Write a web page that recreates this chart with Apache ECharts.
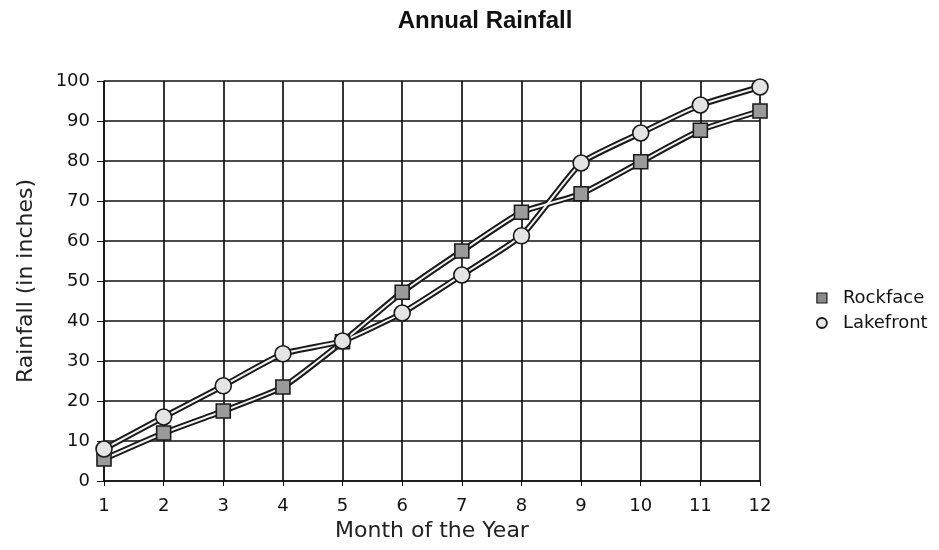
<!DOCTYPE html>
<html>
<head>
<meta charset="utf-8">
<style>html,body{margin:0;padding:0;background:#fff}#c{width:939px;height:550px}</style>
<script src="https://cdn.jsdelivr.net/npm/echarts@6/dist/echarts.min.js"></script>
</head>
<body>
<div id="c"></div>
<script>
const months = [1,2,3,4,5,6,7,8,9,10,11,12];
const rockface = [5.5,12,17.5,23.5,34.8,47.2,57.5,67.2,71.8,79.8,87.7,92.5];
const lakefront = [8,16,23.8,31.8,35,42,51.5,61.3,79.5,87,94,98.5];
const yTicks = [0,10,20,30,40,50,60,70,80,90,100];

const pairs = a => months.map((m,i)=>[m,a[i]]);
const font = 'DejaVu Sans';
const chart = echarts.init(document.getElementById('c'), null, {renderer:'canvas'});
function outline(name, data){
  return {name:name+'-o', type:'line', data:pairs(data), showSymbol:false, symbol:'none',
    smooth:0.15, lineStyle:{color:'#1a1a1a', width:6}, z:2, silent:true, clip:false};
}
function inner(name, data, sym, fill, size){
  return {name:name, type:'line', data:pairs(data), symbol:sym, symbolSize:size, smooth:0.15,
    lineStyle:{color:'#f4f4f4', width:2}, itemStyle:{color:fill, borderColor:'#1a1a1a', borderWidth:1.6, opacity:1},
    z:3, clip:false};
}
chart.setOption({
  animation:false,
  backgroundColor:'#fff',
  title:{text:'Annual Rainfall', left:480, top:4, textAlign:'center',
    textStyle:{fontFamily:'Liberation Sans', fontWeight:'bold', fontSize:24, color:'#111'}},
  legend:{orient:'vertical', left:811, top:284, itemWidth:10, itemHeight:10, itemGap:7,
    textStyle:{fontFamily:font, fontSize:18, color:'#111', padding:[0,0,0,11]},
    data:[
      {name:'Rockface', icon:'rect', itemStyle:{color:'#8a8a8a', borderColor:'#1a1a1a', borderWidth:1.2}},
      {name:'Lakefront', icon:'circle', itemStyle:{color:'#e8e8e8', borderColor:'#1a1a1a', borderWidth:1.8}}
    ]},
  grid:{left:104, right:179, top:81, bottom:69, containLabel:false},
  xAxis:{type:'value', min:1, max:12, interval:1, name:'Month of the Year', nameLocation:'middle', nameGap:35,
    nameTextStyle:{fontFamily:font, fontSize:22, color:'#222'},
    axisLine:{show:true, lineStyle:{color:'#111', width:1.5}},
    axisTick:{show:true, length:5, lineStyle:{color:'#111'}},
    axisLabel:{fontFamily:font, fontSize:18, color:'#111', margin:16},
    splitLine:{show:true, lineStyle:{color:'#111', width:1.7}}},
  yAxis:{type:'value', min:0, max:100, interval:10, name:'Rainfall (in inches)', nameLocation:'middle', nameGap:67,
    nameTextStyle:{fontFamily:font, fontSize:22, color:'#222'},
    axisLine:{show:true, lineStyle:{color:'#111', width:1.5}},
    axisTick:{show:true, length:7, lineStyle:{color:'#111'}},
    axisLabel:{fontFamily:font, fontSize:18, color:'#111', margin:14},
    splitLine:{show:true, lineStyle:{color:'#111', width:1.7}}},
  series:[
    outline('Rockface', rockface),
    outline('Lakefront', lakefront),
    inner('Rockface', rockface, 'rect', '#9a9a9a', 14),
    inner('Lakefront', lakefront, 'circle', '#e4e4e4', 16)
  ]
});
</script>
</body>
</html>
